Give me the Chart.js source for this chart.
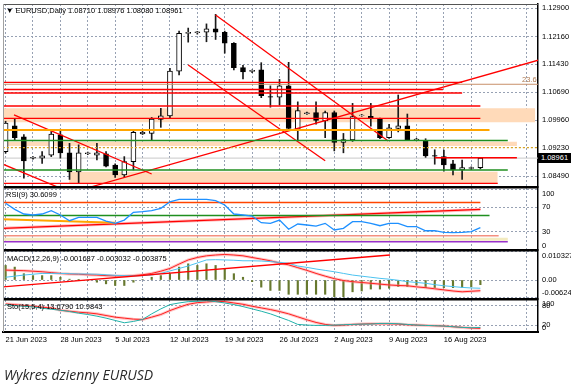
<!DOCTYPE html>
<html><head><meta charset="utf-8">
<script src="https://cdn.jsdelivr.net/npm/chart.js@4.4.1/dist/chart.umd.min.js"></script>
<style>
html,body{margin:0;padding:0;background:#fff;}
body{width:571px;height:390px;overflow:hidden;position:relative;}
#c{position:absolute;left:0;top:0;}
.t{position:absolute;font-family:'Liberation Sans',Arial,sans-serif;font-size:7.5px;line-height:9px;color:#000;white-space:nowrap;}
#cap{position:absolute;left:4px;top:366px;font-family:'Open Sans',sans-serif;font-style:italic;font-size:14px;line-height:18px;color:#2a2a2a;white-space:nowrap;}
#pbox{position:absolute;left:538px;width:33px;height:10px;background:#000;color:#fff;font-family:'Liberation Sans',Arial,sans-serif;font-size:7.5px;line-height:10px;text-align:center;}
#fib{position:absolute;left:522px;color:#b07a50;font-family:'Liberation Sans',Arial,sans-serif;font-size:7.5px;line-height:9px;}
</style></head>
<body>
<canvas id="c" width="571" height="350"></canvas>
<div class="t" style="left:6px;top:6px">▼ EURUSD,Daily 1.08710 1.08976 1.08080 1.08961</div>
<div class="t" style="left:6px;top:190px">RSI(9) 30.6099</div>
<div class="t" style="left:7px;top:254px">MACD(12,26,9) -0.001687 -0.003032 -0.003875</div>
<div class="t" style="left:7px;top:302px">Sto(15,5,4) 13.6790 10.9843</div>
<div id="pbox">1.08961</div>
<div id="fib">23.6</div>
<div id="cap">Wykres dzienny EURUSD</div>
<script>
// ---------- data ----------
const dateLabels = ['21 Jun 2023','28 Jun 2023','5 Jul 2023','12 Jul 2023','19 Jul 2023','26 Jul 2023','2 Aug 2023','9 Aug 2023','16 Aug 2023'];
const opens = [1.0913,1.0981,1.0952,1.0896,1.0896,1.0904,1.0957,1.0910,1.0860,1.0908,
 1.0904,1.0907,1.0878,1.0852,1.0887,1.0960,1.0961,1.0998,1.1007,1.1125,
 1.1224,1.1226,1.1227,1.1236,1.1227,1.1198,1.1134,1.1124,1.1128,1.1058,
 1.1056,1.1086,1.0972,1.1013,1.1016,1.0994,1.1016,1.0937,1.0944,1.1008,
 1.1006,1.0999,1.0950,1.0974,1.0981,1.0944,1.0942,1.0903,1.0900,1.0881,
 1.0865,1.0869,1.0871];
const highs = [1.0993,1.0998,1.0958,1.0900,1.0913,1.0966,1.0972,1.0935,1.0931,1.0912,
 1.0935,1.0913,1.0881,1.0900,1.0970,1.0967,1.1003,1.1027,1.1132,1.1230,
 1.1238,1.1229,1.1249,1.1274,1.1230,1.1200,1.1140,1.1128,1.1147,1.1086,
 1.1103,1.1148,1.1044,1.1017,1.1044,1.1020,1.1020,1.0961,1.1040,1.1011,
 1.1040,1.1001,1.0985,1.1062,1.1012,1.0948,1.0947,1.0918,1.0917,1.0890,
 1.0891,1.0873,1.0898];
const lows = [1.0909,1.0944,1.0843,1.0893,1.0882,1.0900,1.0896,1.0840,1.0831,1.0905,
 1.0891,1.0873,1.0845,1.0846,1.0865,1.0958,1.0942,1.0977,1.1000,1.1115,
 1.1201,1.1222,1.1202,1.1208,1.1172,1.1128,1.1104,1.1121,1.1055,1.1030,
 1.1036,1.0970,1.0944,1.1011,1.0985,1.0950,1.0915,1.0910,1.0940,1.1006,
 1.0980,1.0947,1.0948,1.0965,1.0942,1.0943,1.0898,1.0880,1.0862,1.0852,
 1.0840,1.0866,1.0868];
const closes = [1.0988,1.0950,1.0889,1.0898,1.0902,1.0959,1.0910,1.0860,1.0910,1.0910,
 1.0910,1.0875,1.0852,1.0887,1.0964,1.0964,1.0999,1.1007,1.1125,1.1224,
 1.1227,1.1228,1.1236,1.1227,1.1198,1.1134,1.1123,1.1127,1.1060,1.1056,
 1.1086,1.0974,1.1021,1.1015,1.0995,1.1016,1.0937,1.0945,1.1005,1.1009,
 1.1001,1.0950,1.0976,1.0981,1.0944,1.0946,1.0902,1.0901,1.0878,1.0865,
 1.0871,1.0871,1.08961];
const rsiValues = [76.6,66.7,59,57.4,59,64.4,57.4,48,53.6,53.6,
 53.6,47.5,43.7,49,61.7,62.8,64.4,68.3,79,83,
 83,83,83,80.8,73.8,59,57.4,55.7,44.8,43.7,
 49,34,42.6,41,39.3,43.7,32.8,35.6,46.4,46.4,
 43.7,39.8,43.7,43.7,38.2,38.2,31.6,31.6,29,28.4,
 29,30,36.6];
const macdHist = [0.0053,0.0047,0.0023,0.0016,0.0016,0.0016,0.0010,0.0003,0.0001,-0.0002,
 -0.0008,-0.0014,-0.0020,-0.0020,-0.0008,0.0002,0.0010,0.0016,0.0023,0.0047,
 0.0059,0.0053,0.0059,0.0053,0.0041,0.0023,0.0010,-0.0006,-0.0026,-0.0038,
 -0.0038,-0.0052,-0.0052,-0.0052,-0.0052,-0.0052,-0.0061,-0.0061,-0.0043,-0.0040,
 -0.0033,-0.0033,-0.0030,-0.0024,-0.0024,-0.0018,-0.0028,-0.0028,-0.0028,-0.0028,
 -0.0027,-0.0025,-0.0017];
const macdBlue = [0.0010,0.0014,0.0018,0.0021,0.0024,0.0024,0.0024,0.0023,0.0022,0.0022,
 0.0021,0.0019,0.0017,0.0016,0.0015,0.0016,0.0018,0.0024,0.0033,0.0042,
 0.0051,0.0062,0.0073,0.0074,0.0073,0.0072,0.0070,0.0070,0.0069,0.0067,
 0.0064,0.0061,0.0051,0.0046,0.0040,0.0035,0.0030,0.0024,0.0018,0.0014,
 0.0010,0.0006,0.0003,-0.0001,-0.0006,-0.0009,-0.0012,-0.0017,-0.0021,-0.0024,
 -0.0027,-0.0029,-0.0030];
const macdRed = [0.0036,0.0035,0.0034,0.0032,0.0030,0.0027,0.0024,0.0022,0.0021,0.0019,
 0.0018,0.0016,0.0015,0.0015,0.0016,0.0019,0.0024,0.0032,0.0042,0.0058,
 0.0073,0.0082,0.0088,0.0091,0.0093,0.0091,0.0088,0.0082,0.0076,0.0070,
 0.0062,0.0055,0.0045,0.0035,0.0024,0.0014,0.0005,-0.0002,-0.0006,-0.0009,
 -0.0012,-0.0015,-0.0018,-0.0020,-0.0021,-0.0025,-0.0028,-0.0032,-0.0036,-0.0040,
 -0.0043,-0.0041,-0.0039];
const stochMain = [83,80,78,76,72,69,66,62,57,53,
 48,42,35,28,32,38,55,70,83,88,
 92,93,95,92,88,83,77,70,63,55,
 45,35,23,21,20,20,21,22,23,24,
 24,26,26,25,23,21,20,19,18,16,
 14,13,13.7];
const stochSignal = [85,83,80,78,75,73,66,63,60,58,
 55,50,45,42,39,38,45,53,65,75,
 84,89,91,93,92,88,84,78,73,68,
 62,55,46,37,29,23,20,21,23,24,
 25,25,25,24,22,21,20,19,18,16,
 14,12,11];
const priceTicks = [1.08490,1.09230,1.09960,1.10690,1.11430,1.12160,1.12900];
const rsiTicks = [0,30,70,100];
const macdTicks = [-0.006242,0,0.010327];
const stochTicks = [0,20,80,100];
// chart objects: [price, fromBar, toBar]
const redLevels = [[1.10954,-0.3,50.0],[1.10765,-0.3,47.9],[1.10673,-0.3,50.0],[1.10331,-0.3,52.0],[1.10008,-0.3,52.0],[1.08970,47.0,56.0],[1.08298,-0.3,53.9]];
const orangeLevels = [[1.09700,-0.3,53.0]];
const greenLevels = [[1.09424,-0.3,55.0],[1.08648,-0.3,55.0]];
const goldLevels = [[1.09234,-0.3,59]];
const fibLevel = [1.10902,-0.3,59];
// zones: [top, bottom, fromBar, toBar]
const zones = [[1.10270,1.09902,-0.3,58.0],[1.09392,1.09279,-0.3,56.0],[1.08603,1.08298,6.95,53.9]];
// trend lines: [fromBar, fromPrice, toBar, toPrice]
const trendLines = [[23.0,1.12724,41.9,1.09411],[20.0,1.11409,35.0,1.08893],[9.3,1.0820,59,1.1158],[0.92,1.10095,16.0,1.08543],[-0.3,1.0880,6.0,1.0817]];
// RSI window objects
const rsiLevelLines = {orangeRed:[-0.3,77.9,52.0,77.9], green:[-0.3,56.6,53.0,56.6], orange:[-0.3,50.3,12.0,44.8], salmon:[-0.3,23.4,54.0,23.4], cream:[-0.3,17.5,55.0,17.5], purple:[-0.3,13.6,55.0,13.6]};
const rsiTrend = [-0.3,35.5,52.0,66.5];
const macdTrend = [-0.3,-0.00252,42.1,0.0091];

// ---------- helpers ----------
const bars = opens.map((_, i) => i);
const seg = (a) => [{x:a[0], y:a[1]}, {x:a[2], y:a[3]}];
function lineDs(data, yAxisID, color, width, extra) {
  return Object.assign({type:'line', data, yAxisID, xAxisID:'x', borderColor:color, borderWidth:width,
    pointRadius:0, fill:false, tension:0, order:20}, extra || {});
}
const datasets = [];
zones.forEach(z => datasets.push(lineDs(seg([z[2], z[0], z[3], z[0]]), 'yP', 'rgba(0,0,0,0)', 0,
  {fill:{value:z[1]}, backgroundColor:'#FFDAB9', order:100})));
datasets.push(lineDs(seg([-0.3, closes[closes.length-1], 59, closes[closes.length-1]]), 'yP', '#c8c8c8', 1, {order:95}));
datasets.push({type:'bar', data: bars.map(i => ({x:i, y:[lows[i], highs[i]]})), yAxisID:'yP', xAxisID:'x',
  backgroundColor:'#1a1a1a', barThickness:1, grouped:false, order:60});
datasets.push({type:'bar', data: bars.map(i => ({x:i, y:[opens[i], closes[i]]})), yAxisID:'yP', xAxisID:'x',
  backgroundColor: bars.map(i => closes[i] >= opens[i] ? '#ffffff' : '#000000'),
  borderColor:'#000', borderWidth:1, borderSkipped:false, barThickness:5, grouped:false, order:50});
datasets.push(lineDs(seg([fibLevel[1], fibLevel[0], fibLevel[2], fibLevel[0]]), 'yP', '#c8906a', 1, {order:30}));
goldLevels.forEach(l => datasets.push(lineDs(seg([l[1], l[0], l[2], l[0]]), 'yP', '#DAA520', 1.2, {borderDash:[2,2]})));
greenLevels.forEach(l => datasets.push(lineDs(seg([l[1], l[0], l[2], l[0]]), 'yP', '#1f8f1f', 1.3)));
orangeLevels.forEach(l => datasets.push(lineDs(seg([l[1], l[0], l[2], l[0]]), 'yP', '#FFA500', 2.2)));
redLevels.forEach(l => datasets.push(lineDs(seg([l[1], l[0], l[2], l[0]]), 'yP', '#FF0000', 1.3)));
trendLines.forEach(t => datasets.push(lineDs(seg(t), 'yP', '#FF0000', 1.3)));
// RSI
datasets.push(lineDs(seg(rsiLevelLines.cream), 'yR', '#F3EBC0', 3));
datasets.push(lineDs(seg(rsiLevelLines.purple), 'yR', '#9932CC', 1.4));
datasets.push(lineDs(seg(rsiLevelLines.salmon), 'yR', '#F49080', 1.4));
datasets.push(lineDs(seg(rsiLevelLines.orangeRed), 'yR', '#FF4500', 1.3));
datasets.push(lineDs(seg(rsiLevelLines.green), 'yR', '#1f8f1f', 1.4));
datasets.push(lineDs(seg(rsiLevelLines.orange), 'yR', '#FFA500', 2));
datasets.push(lineDs(seg(rsiTrend), 'yR', 'rgba(255,120,120,0.5)', 3, {order:25}));
datasets.push(lineDs(seg(rsiTrend), 'yR', '#FF0000', 1.2));
datasets.push(lineDs(rsiValues.map((v, i) => ({x:i, y:v})), 'yR', '#1E90FF', 1.3, {order:10}));
// MACD
datasets.push({type:'bar', data: macdHist.map((v, i) => ({x:i, y:v})), yAxisID:'yM', xAxisID:'x',
  backgroundColor:'#67792f', barThickness:1.5, grouped:false, order:40});
datasets.push(lineDs(macdRed.map((v, i) => ({x:i, y:v})), 'yM', 'rgba(255,130,130,0.45)', 3, {order:15}));
datasets.push(lineDs(macdRed.map((v, i) => ({x:i, y:v})), 'yM', '#FF2020', 1, {order:12}));
datasets.push(lineDs(macdBlue.map((v, i) => ({x:i, y:v})), 'yM', '#4CC3F0', 1, {order:11}));
datasets.push(lineDs(seg(macdTrend), 'yM', '#FF0000', 1.4, {order:10}));
// Stochastic
datasets.push(lineDs(stochSignal.map((v, i) => ({x:i, y:v})), 'yS', 'rgba(255,130,130,0.45)', 3, {order:15}));
datasets.push(lineDs(stochSignal.map((v, i) => ({x:i, y:v})), 'yS', '#FF2020', 1, {order:12}));
datasets.push(lineDs(stochMain.map((v, i) => ({x:i, y:v})), 'yS', '#20B2AA', 1, {order:11}));

// ---------- scales ----------
const gridCol = '#97a1b3';
const tickFont = {size:7.5, family:"'Liberation Sans', Arial, sans-serif"};
function yAxis(stackWeight, weight, min, max, ticks, fmt) {
  return {type:'linear', position:'right', stack:'panes', stackWeight, weight, min, max,
    afterBuildTicks: s => { s.ticks = ticks.map(v => ({value:v})); },
    afterFit: s => { s.width = 33; s.paddingTop = 0; s.paddingBottom = 0; },
    ticks: {callback: fmt, padding:4, color:'#000', font:tickFont, autoSkip:false},
    grid: {color:gridCol, lineWidth:1, drawTicks:false},
    border: {display:true, color:'#000', width:1.5, dash:[2,2]}};
}
const edgeLabel = (v, lo, hi, s) => v === hi ? ['', s] : (v === lo ? [s, ''] : s);
const gridBars = [];
for (let b = 0; b <= 57; b += 3) gridBars.push(b);

const panelPlugin = {
  id:'panels',
  beforeDatasetDraw(chart, args) {
    const ys = chart.scales[args.meta.yAxisID];
    const a = chart.chartArea, ctx = chart.ctx;
    ctx.save(); ctx.beginPath(); ctx.rect(a.left, ys.top, a.right - a.left, ys.bottom - ys.top); ctx.clip();
  },
  afterDatasetDraw(chart) { chart.ctx.restore(); },
  afterDraw(chart) {
    const a = chart.chartArea, ctx = chart.ctx;
    ctx.save();
    ctx.fillStyle = '#000';
    ['yR','yM','yS'].forEach(id => { const t = chart.scales[id].top; ctx.fillRect(a.left, Math.round(t) - 1, a.right - a.left, 2.5); });
    ctx.fillStyle = '#555'; ctx.fillRect(a.left, a.top, a.right - a.left, 1);
    ctx.fillStyle = '#a0a0a0'; ctx.fillRect(a.left, a.top, 1, a.bottom - a.top);
    ctx.restore();
    const yP = chart.scales.yP;
    document.getElementById('pbox').style.top = (yP.getPixelForValue(closes[closes.length-1]) - 5) + 'px';
    document.getElementById('fib').style.top = (yP.getPixelForValue(fibLevel[0]) - 9) + 'px';
  }
};

new Chart(document.getElementById('c'), {
  type:'line',
  data:{datasets},
  options:{
    responsive:false, animation:false, devicePixelRatio:1, events:[],
    layout:{padding:{left:3, top:4, right:0, bottom:0}},
    plugins:{legend:{display:false}, tooltip:{enabled:false}},
    scales:{
      x:{type:'linear', min:-0.285, max:58.31, offset:false,
        afterBuildTicks: s => { s.ticks = gridBars.map(v => ({value:v})); },
        afterFit: s => { s.height = 18; s.paddingLeft = 0; s.paddingRight = 0; },
        ticks:{autoSkip:false, maxRotation:0, minRotation:0, align:'start', padding:3, color:'#000', font:tickFont,
          callback: v => (v % 6 === 0 ? dateLabels[v / 6] : '')},
        grid:{color:gridCol, drawTicks:false, offset:false},
        border:{display:true, color:'#000', width:2, dash:[2,2]}},
      yP: yAxis(183, 1, 1.08201, 1.13013, priceTicks, v => v.toFixed(5)),
      yR: yAxis(63, 2, 0, 103.3, rsiTicks, v => edgeLabel(v, 0, 100, String(v))),
      yM: yAxis(49, 3, -0.006916, 0.01092, macdTicks, v => edgeLabel(v, -0.006242, 0.010327, v === 0 ? '0.00' : v.toFixed(6))),
      yS: yAxis(33, 4, 0, 100, stochTicks, v => edgeLabel(v, 0, 100, String(v)))
    }
  },
  plugins:[panelPlugin]
});
</script>
</body></html>
